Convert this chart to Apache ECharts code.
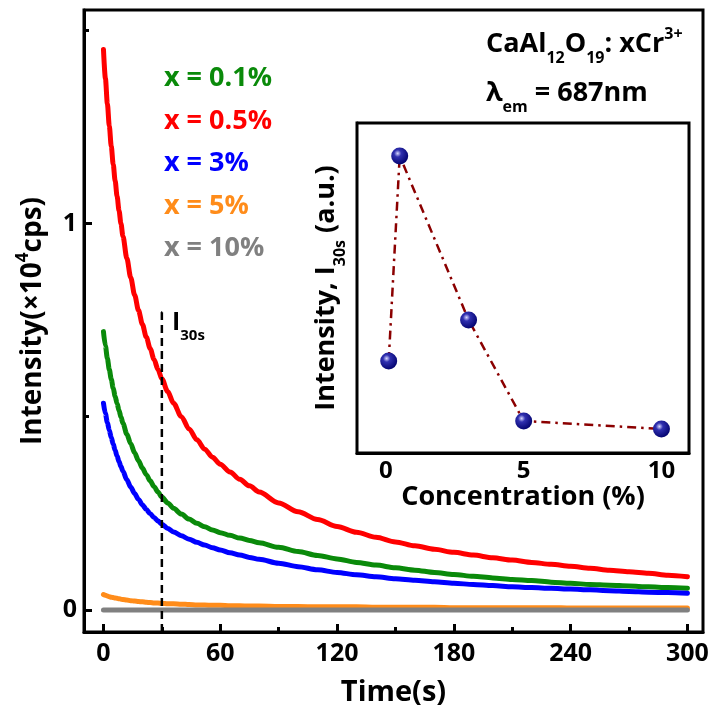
<!DOCTYPE html>
<html>
<head>
<meta charset="utf-8">
<script src="https://cdn.jsdelivr.net/npm/echarts@6/dist/echarts.min.js"></script>
<style>
  html, body { margin: 0; padding: 0; background: #fff; }
  #chart { width: 714px; height: 717px; }
</style>
</head>
<body>
<div id="chart"></div>
<script>
// ---------------- data ----------------
const times = [0,1,2,3,4,5,6,7,8,9,10,12,14,16,18,20,22,24,26,28,30,33,36,40,44,48,52,56,60,65,70,75,80,90,100,110,120,130,140,150,160,170,180,190,200,210,220,230,240,250,260,270,280,290,300];
const red    = [1.45,1.375,1.31,1.252,1.2,1.153,1.11,1.07,1.033,0.999,0.967,0.91,0.86,0.815,0.775,0.739,0.706,0.676,0.648,0.622,0.598,0.565,0.535,0.50,0.468,0.44,0.416,0.395,0.377,0.357,0.338,0.321,0.305,0.277,0.254,0.234,0.216,0.201,0.188,0.176,0.166,0.157,0.149,0.142,0.135,0.129,0.123,0.118,0.113,0.108,0.103,0.099,0.095,0.09,0.086];
const green  = [0.72,0.683,0.651,0.622,0.597,0.574,0.553,0.534,0.516,0.499,0.483,0.455,0.43,0.407,0.386,0.367,0.35,0.334,0.319,0.305,0.292,0.277,0.263,0.248,0.235,0.224,0.215,0.207,0.20,0.193,0.186,0.18,0.174,0.162,0.151,0.141,0.132,0.123,0.116,0.109,0.103,0.097,0.092,0.087,0.083,0.079,0.076,0.072,0.069,0.066,0.064,0.062,0.06,0.058,0.056];
const blue   = [0.535,0.508,0.485,0.465,0.446,0.429,0.413,0.398,0.384,0.371,0.359,0.337,0.318,0.301,0.286,0.272,0.26,0.249,0.239,0.23,0.222,0.211,0.202,0.192,0.183,0.175,0.168,0.161,0.155,0.148,0.142,0.136,0.131,0.121,0.112,0.104,0.097,0.091,0.086,0.081,0.077,0.073,0.069,0.066,0.063,0.06,0.058,0.056,0.054,0.052,0.05,0.048,0.046,0.045,0.043];
const orange = [0.04,0.038,0.036,0.034,0.033,0.032,0.031,0.03,0.029,0.028,0.027,0.026,0.024,0.023,0.022,0.021,0.02,0.019,0.018,0.018,0.017,0.016,0.016,0.015,0.014,0.013,0.013,0.012,0.012,0.011,0.011,0.010,0.010,0.009,0.009,0.008,0.008,0.008,0.007,0.007,0.007,0.007,0.006,0.006,0.006,0.006,0.006,0.006,0.005,0.005,0.005,0.005,0.005,0.005,0.005];
const gray   = [0,0,0,0,0,0,0,0,0,0,0,0,0,0,0,0,0,0,0,0,0,0,0,0,0,0,0,0,0,0,0,0,0,0,0,0,0,0,0,0,0,0,0,0,0,0,0,0,0,0,0,0,0,0,0];
const seriesNames = ['x = 0.1%', 'x = 0.5%', 'x = 3%', 'x = 5%', 'x = 10%'];
const seriesColors = ['#0a8a0a', '#ff0000', '#0000ff', '#ff8c1a', '#808080'];

const xTickLabels = [0, 60, 120, 180, 240, 300];
const xMinorTicks = [30, 90, 150, 210, 270];
const yTickLabels = [0, 1];
const yMinorTicks = [0.5, 1.5];
const markerTime = 30;      // I30s position
const markerTop = 0.77;

// inset
const concentration = [0.1, 0.5, 3, 5, 10];
const i30s = [3.88, 12.53, 5.61, 1.35, 1.01];
const insetXLabels = [0, 5, 10];
const insetXMinor = [2.5, 7.5];
const insetYTicks = [1,2,3,4,5,6,7,8,9,10,11,12,13];

// ---------------- chart ----------------
const FONT = 'Open Sans';
const chart = echarts.init(document.getElementById('chart'), null, { renderer: 'canvas' });

const mk = (arr) => times.map((t, i) => [t, arr[i]]);
const curves = [green, red, blue, orange, gray];

function richSet(size) {
  return {
    m: { fontFamily: FONT, fontWeight: 'bold', fontSize: size, color: '#000' },
    sub: { fontFamily: FONT, fontWeight: 'bold', fontSize: Math.round(size * 0.6), lineHeight: 14, padding: [Math.round(size * 1.05), 0, 0, 0], color: '#000' },
    sup: { fontFamily: FONT, fontWeight: 'bold', fontSize: Math.round(size * 0.6), lineHeight: 14, padding: [0, 0, Math.round(size * 0.72), 0], color: '#000' }
  };
}

const lineSeries = curves.map((arr, i) => ({
  name: seriesNames[i],
  type: 'line',
  xAxisIndex: 0, yAxisIndex: 0,
  data: mk(arr),
  showSymbol: false,
  symbol: 'none',
  smooth: 0.3,
  smoothMonotone: 'x',
  lineStyle: { color: seriesColors[i], width: 5, cap: 'round', join: 'round' },
  itemStyle: { color: seriesColors[i] },
  z: 2 + i
}));

const legendOrder = [0, 1, 2, 3, 4];

const option = {
  animation: false,
  backgroundColor: '#fff',
  textStyle: { fontFamily: FONT },
  grid: [
    { left: 84, right: 11, top: 10, bottom: 85, show: true, borderColor: '#000', borderWidth: 3, backgroundColor: 'transparent' },
    { left: 357, top: 123, width: 332, height: 330, show: true, borderColor: '#000', borderWidth: 3, backgroundColor: '#fff', z: 1 }
  ],
  legend: {
    left: 154, top: 58, orient: 'vertical', icon: 'none', itemWidth: 0, itemHeight: 0, itemGap: 11.5,
    selectedMode: false,
    data: legendOrder.map(i => ({ name: seriesNames[i], textStyle: { color: seriesColors[i] } })),
    textStyle: { fontFamily: FONT, fontWeight: 'bold', fontSize: 27, lineHeight: 31, padding: 0 }
  },
  xAxis: [
    {
      type: 'value', gridIndex: 0, min: -10, max: 308,
      name: 'Time(s)', nameLocation: 'middle', nameGap: 46,
      nameTextStyle: { fontFamily: FONT, fontWeight: 'bold', fontSize: 29, color: '#000' },
      axisLine: { show: true, onZero: false, lineStyle: { color: '#000', width: 3 } },
      axisTick: { show: true, inside: true, length: 8, customValues: xTickLabels, lineStyle: { color: '#000', width: 3 } },
      axisLabel: { show: true, customValues: xTickLabels, margin: 9, fontFamily: FONT, fontWeight: 'bold', fontSize: 25, color: '#000' },
      splitLine: { show: false }
    },
    {
      type: 'value', gridIndex: 0, min: -10, max: 308, position: 'bottom',
      axisLine: { show: false, onZero: false },
      axisTick: { show: true, inside: true, length: 5, customValues: xMinorTicks, lineStyle: { color: '#000', width: 3 } },
      axisLabel: { show: false },
      splitLine: { show: false }
    },
    {
      type: 'value', gridIndex: 1, min: -1.05, max: 11,
      name: 'Concentration (%)', nameLocation: 'middle', nameGap: 28,
      nameTextStyle: { fontFamily: FONT, fontWeight: 'bold', fontSize: 27, color: '#000' },
      axisLine: { show: true, onZero: false, lineStyle: { color: '#000', width: 3 } },
      axisTick: { show: true, inside: true, length: 5, customValues: insetXLabels, lineStyle: { color: '#000', width: 2.5 } },
      axisLabel: { show: true, customValues: insetXLabels, margin: 6, fontFamily: FONT, fontWeight: 'bold', fontSize: 24, color: '#000' },
      splitLine: { show: false }
    },
    {
      type: 'value', gridIndex: 1, min: -1.05, max: 11, position: 'bottom',
      axisLine: { show: false, onZero: false },
      axisTick: { show: true, inside: true, length: 3, customValues: insetXMinor, lineStyle: { color: '#000', width: 2.5 } },
      axisLabel: { show: false },
      splitLine: { show: false }
    }
  ],
  yAxis: [
    {
      type: 'value', gridIndex: 0, min: -0.057, max: 1.552,
      name: '{m|Intensity(×10}{sup|4}{m|cps)}', nameLocation: 'middle', nameGap: 35, nameRotate: 90,
      nameTextStyle: { rich: richSet(28) },
      axisLine: { show: true, onZero: false, lineStyle: { color: '#000', width: 3 } },
      axisTick: { show: true, inside: true, length: 8, customValues: yTickLabels, lineStyle: { color: '#000', width: 3 } },
      axisLabel: { show: true, customValues: yTickLabels, margin: 7, fontFamily: FONT, fontWeight: 'bold', fontSize: 25, color: '#000' },
      splitLine: { show: false }
    },
    {
      type: 'value', gridIndex: 0, min: -0.057, max: 1.552, position: 'left',
      axisLine: { show: false, onZero: false },
      axisTick: { show: true, inside: true, length: 5, customValues: yMinorTicks, lineStyle: { color: '#000', width: 3 } },
      axisLabel: { show: false },
      splitLine: { show: false }
    },
    {
      type: 'value', gridIndex: 1, min: 0, max: 13.92,
      name: '{m|Intensity, I}{sub|30s}{m| (a.u.)}', nameLocation: 'middle', nameGap: 17, nameRotate: 90,
      nameTextStyle: { rich: richSet(27) },
      axisLine: { show: true, onZero: false, lineStyle: { color: '#000', width: 3 } },
      axisTick: { show: true, inside: true, length: 4, customValues: insetYTicks, lineStyle: { color: '#000', width: 2.5 } },
      axisLabel: { show: false },
      splitLine: { show: false }
    }
  ],
  series: [
    ...lineSeries,
    {
      name: 'I30s marker',
      type: 'line',
      xAxisIndex: 0, yAxisIndex: 0,
      data: [[markerTime, -0.057], [markerTime, markerTop], [markerTime + 2.2, markerTop]],
      showSymbol: false, symbol: 'none',
      lineStyle: { color: '#000', width: 2.5, type: [8, 5] },
      z: 10
    },
    {
      name: 'I30s',
      type: 'line',
      xAxisIndex: 2, yAxisIndex: 2,
      data: concentration.map((c, i) => [c, i30s[i]]),
      symbol: 'circle',
      symbolSize: 17,
      showSymbol: true,
      lineStyle: { color: '#8b0000', width: 2.5, type: [9, 5, 2.5, 5] },
      itemStyle: {
        color: {
          type: 'radial', x: 0.38, y: 0.35, r: 0.7,
          colorStops: [
            { offset: 0, color: '#d8d8ff' },
            { offset: 0.3, color: '#3030b0' },
            { offset: 1, color: '#00006a' }
          ]
        },
        borderWidth: 0
      },
      z: 12
    }
  ],
  graphic: [
    {
      type: 'text', left: 486, top: 22, z: 100,
      style: {
        text: '{m|CaAl}{sub|12}{m|O}{sub|19}{m|: xCr}{sup|3+}',
        rich: richSet(27)
      }
    },
    {
      type: 'text', left: 486, top: 71, z: 100,
      style: {
        text: '{m|λ}{sub|em}{m| = 687nm}',
        rich: richSet(27)
      }
    },
    {
      type: 'text', left: 172, top: 302, z: 100,
      style: {
        text: '{m|I}{sub|30s}',
        rich: richSet(25)
      }
    }
  ]
};

chart.setOption(option);
</script>
</body>
</html>
